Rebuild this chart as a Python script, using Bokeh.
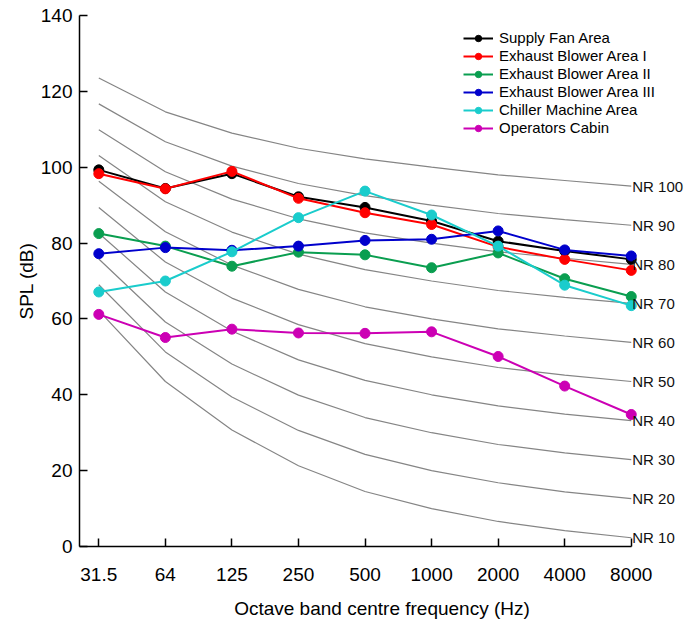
from bokeh.plotting import figure
from bokeh.models import FixedTicker, Label
from bokeh.embed import file_html
from bokeh.resources import INLINE

# ---- data ----
freq_labels = ["31.5", "64", "125", "250", "500", "1000", "2000", "4000", "8000"]
y_ticks = [0, 20, 40, 60, 80, 100, 120, 140]

supply_fan = [99.3, 94.4, 98.3, 92.2, 89.4, 85.8, 80.5, 77.9, 75.7]
exhaust_1 = [98.3, 94.3, 98.9, 91.8, 88.0, 84.9, 79.0, 75.7, 72.8]
exhaust_2 = [82.5, 79.2, 73.9, 77.6, 76.9, 73.5, 77.4, 70.6, 65.9]
exhaust_3 = [77.2, 78.8, 78.1, 79.2, 80.7, 81.0, 83.2, 78.2, 76.6]
chiller = [67.1, 70.0, 77.7, 86.7, 93.7, 87.4, 79.2, 68.9, 63.5]
cabin = [61.2, 55.1, 57.3, 56.3, 56.2, 56.6, 50.1, 42.3, 34.8]

series_names = ["Supply Fan Area", "Exhaust Blower Area I", "Exhaust Blower Area II",
                "Exhaust Blower Area III", "Chiller Machine Area", "Operators Cabin"]
series_colors = ["#000000", "#ff0000", "#0a9e50", "#0000cc", "#1acccc", "#cc00b4"]

nr_levels = [10, 20, 30, 40, 50, 60, 70, 80, 90, 100]
nr10 = [62.2, 43.5, 30.7, 21.3, 14.5, 10.0, 6.6, 4.2, 2.3]
nr20 = [69.0, 51.3, 39.4, 30.6, 24.3, 20.0, 16.8, 14.4, 12.6]
nr30 = [75.8, 59.2, 48.1, 39.9, 34.0, 30.0, 26.9, 24.7, 22.9]
nr40 = [82.6, 67.1, 56.8, 49.2, 43.8, 40.0, 37.1, 34.9, 33.2]
nr50 = [89.4, 75.0, 65.5, 58.5, 53.5, 50.0, 47.2, 45.2, 43.5]
nr60 = [96.3, 83.0, 74.2, 67.8, 63.2, 60.0, 57.4, 55.5, 53.8]
nr70 = [103.1, 90.9, 82.9, 77.1, 73.0, 70.0, 67.5, 65.7, 64.1]
nr80 = [109.9, 98.8, 91.6, 86.4, 82.7, 80.0, 77.7, 76.0, 74.4]
nr90 = [116.7, 106.7, 100.3, 95.7, 92.5, 90.0, 87.8, 86.2, 84.7]
nr100 = [123.5, 114.6, 109.0, 105.0, 102.2, 100.0, 98.0, 96.5, 95.0]

# ---- figure ----
FONT = "Liberation Sans"
xs = list(range(len(freq_labels)))
x_start = -0.29

p = figure(width=684, height=622, x_range=(x_start, 8.80), y_range=(0, 140),
           output_backend="svg", toolbar_location=None,
           min_border_left=79, min_border_right=0, min_border_top=15, min_border_bottom=76)
p.outline_line_color = None
p.grid.visible = False
p.background_fill_color = "white"

# NR curves
nr_curves = [nr10, nr20, nr30, nr40, nr50, nr60, nr70, nr80, nr90, nr100]
for lvl, curve in zip(nr_levels, nr_curves):
    p.line(xs, curve, line_color="#858585", line_width=1.2)
    p.add_layout(Label(x=xs[-1], y=curve[-1], text=f"NR {lvl}", x_offset=1,
                       text_baseline="middle", text_align="left",
                       text_font=FONT, text_font_size="15px", text_color="#111111"))

# measured series
all_series = [supply_fan, exhaust_1, exhaust_2, exhaust_3, chiller, cabin]
for name, color, vals in zip(series_names, series_colors, all_series):
    p.line(xs, vals, line_color=color, line_width=2, legend_label=name)
    p.scatter(xs, vals, marker="circle", size=10, fill_color=color, line_color=color,
              legend_label=name)

# axes
p.xaxis.ticker = FixedTicker(ticks=xs)
p.xaxis.major_label_overrides = {i: lab for i, lab in enumerate(freq_labels)}
p.xaxis.bounds = (x_start, xs[-1])
p.yaxis.ticker = FixedTicker(ticks=y_ticks)
for ax in (p.xaxis[0], p.yaxis[0]):
    ax.axis_line_color = "black"
    ax.axis_line_width = 1.5
    ax.major_tick_line_color = "black"
    ax.major_tick_line_width = 1.5
    ax.major_tick_in = 8
    ax.major_tick_out = 0
    ax.minor_tick_line_color = None
    ax.major_label_text_font = FONT
    ax.major_label_text_font_size = "19px"
    ax.major_label_text_color = "black"
    ax.axis_label_text_font = FONT
    ax.axis_label_text_font_style = "normal"
    ax.axis_label_text_color = "black"

p.xaxis.axis_label = "Octave band centre frequency (Hz)"
p.xaxis.axis_label_text_font_size = "19px"
p.xaxis.major_label_standoff = 21
p.xaxis.axis_label_standoff = 14
p.yaxis.axis_label = "SPL (dB)"
p.yaxis.axis_label_text_font_size = "19px"
p.yaxis.major_label_standoff = 7
p.yaxis.axis_label_standoff = 1

# legend
lg = p.legend[0]
lg.location = (384, 410)
lg.margin = 0
lg.padding = 0
lg.spacing = 1
lg.glyph_width = 30
lg.glyph_height = 16
lg.label_height = 16
lg.label_standoff = 6
lg.label_text_font = FONT
lg.label_text_font_size = "15px"
lg.label_text_color = "black"
lg.border_line_color = None
lg.background_fill_alpha = 0

open("out.html", "w").write(file_html(p, INLINE))
